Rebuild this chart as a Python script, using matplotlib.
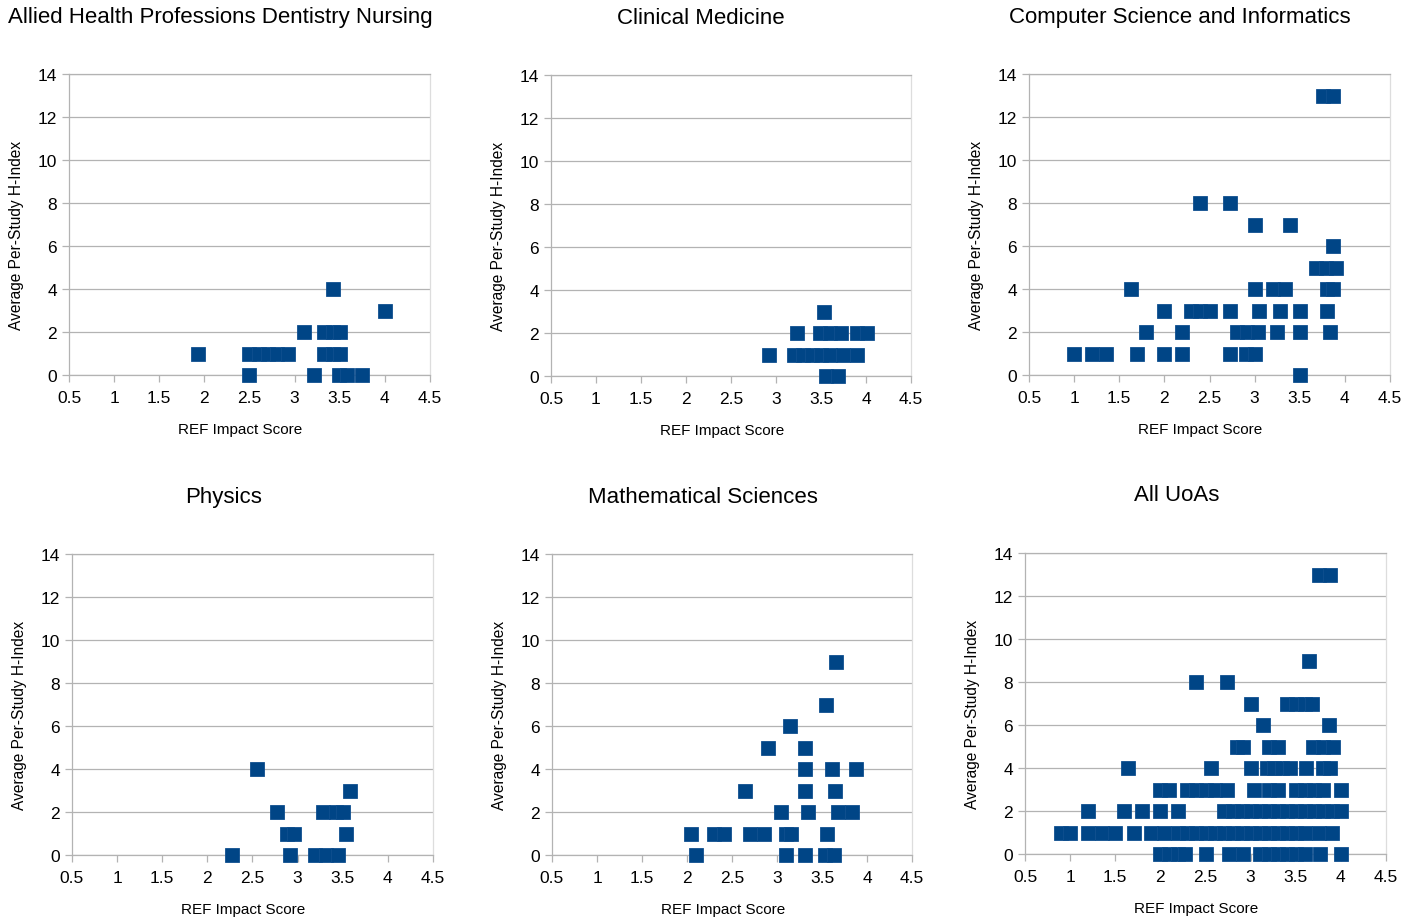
import numpy as np
import matplotlib
matplotlib.use('Agg')
import matplotlib.pyplot as plt

plt.rcParams['font.family'] = ['Liberation Sans', 'DejaVu Sans']

titles = ['Allied Health Professions Dentistry Nursing', 'Clinical Medicine',
          'Computer Science and Informatics', 'Physics', 'Mathematical Sciences', 'All UoAs']

# (impact score, h-index) pairs per panel
allied_x = [3.43, 4.0, 3.1, 3.33, 3.42, 3.5, 1.93, 2.5, 2.6, 2.7, 2.8, 2.93, 3.33, 3.42, 3.5,
            2.5, 3.21, 3.49, 3.58, 3.75]
allied_y = [4, 3, 2, 2, 2, 2, 1, 1, 1, 1, 1, 1, 1, 1, 1,
            0, 0, 0, 0, 0]

clinical_x = [3.53, 3.23, 3.49, 3.6, 3.72, 3.9, 4.01, 2.92, 3.2, 3.3, 3.4, 3.5, 3.6, 3.74, 3.9,
              3.56, 3.69]
clinical_y = [3, 2, 2, 2, 2, 2, 2, 1, 1, 1, 1, 1, 1, 1, 1,
              0, 0]

comp_x = [3.76, 3.87, 2.4, 2.73, 3.0, 3.39, 3.87, 3.68, 3.79, 3.9,
          1.63, 3.0, 3.2, 3.34, 3.8, 3.87,
          2.0, 2.3, 2.4, 2.5, 2.73, 3.05, 3.28, 3.5, 3.8,
          1.8, 2.2, 2.8, 2.92, 3.04, 3.25, 3.5, 3.83,
          1.0, 1.2, 1.35, 1.7, 2.0, 2.2, 2.73, 2.9, 3.0,
          3.5]
comp_y = [13, 13, 8, 8, 7, 7, 6, 5, 5, 5,
          4, 4, 4, 4, 4, 4,
          3, 3, 3, 3, 3, 3, 3, 3, 3,
          2, 2, 2, 2, 2, 2, 2, 2,
          1, 1, 1, 1, 1, 1, 1, 1, 1,
          0]

phys_x = [2.55, 3.58, 2.77, 3.28, 3.43, 3.5, 2.88, 2.96, 3.54,
          2.27, 2.91, 3.19, 3.31, 3.45]
phys_y = [4, 3, 2, 2, 2, 2, 1, 1, 1,
          0, 0, 0, 0, 0]

math_x = [3.65, 3.54, 3.14, 2.9, 3.31, 3.31, 3.61, 3.88, 2.64, 3.31, 3.64,
          3.04, 3.34, 3.68, 3.83,
          2.04, 2.3, 2.41, 2.7, 2.86, 3.1, 3.16, 3.56,
          2.1, 3.1, 3.31, 3.53, 3.63]
math_y = [9, 7, 6, 5, 5, 4, 4, 4, 3, 3, 3,
          2, 2, 2, 2,
          1, 1, 1, 1, 1, 1, 1, 1,
          0, 0, 0, 0, 0]

all_x = [3.76, 3.88, 3.65, 2.4, 2.74,
         3.0, 3.4, 3.5, 3.6, 3.68,
         3.14, 3.87,
         2.85, 2.92, 3.2, 3.3, 3.69, 3.8, 3.91,
         1.64, 2.56, 3.0, 3.18, 3.26, 3.35, 3.44, 3.61, 3.8, 3.88,
         2.0, 2.1, 2.3, 2.4, 2.5, 2.6, 2.74, 3.04, 3.2, 3.3, 3.5, 3.6, 3.7, 3.8, 4.0,
         1.2, 1.6, 1.8, 2.0, 2.2, 2.7, 2.8, 2.9, 3.0, 3.1, 3.2, 3.3, 3.4, 3.5, 3.6, 3.7,
         3.8, 3.9, 4.0,
         0.9, 1.0, 1.2, 1.35, 1.5, 1.71, 1.9, 2.04, 2.2, 2.3, 2.4, 2.5, 2.6, 2.7, 2.8,
         2.9, 3.0, 3.1, 3.2, 3.3, 3.4, 3.5, 3.6, 3.76, 3.9,
         2.0, 2.1, 2.2, 2.27, 2.5, 2.76, 2.92, 3.1, 3.2, 3.3, 3.4, 3.5, 3.6, 3.77, 4.0]
all_y = [13, 13, 9, 8, 8,
         7, 7, 7, 7, 7,
         6, 6,
         5, 5, 5, 5, 5, 5, 5,
         4, 4, 4, 4, 4, 4, 4, 4, 4, 4,
         3, 3, 3, 3, 3, 3, 3, 3, 3, 3, 3, 3, 3, 3, 3,
         2, 2, 2, 2, 2, 2, 2, 2, 2, 2, 2, 2, 2, 2, 2, 2,
         2, 2, 2,
         1, 1, 1, 1, 1, 1, 1, 1, 1, 1, 1, 1, 1, 1, 1,
         1, 1, 1, 1, 1, 1, 1, 1, 1, 1,
         0, 0, 0, 0, 0, 0, 0, 0, 0, 0, 0, 0, 0, 0, 0]

panels = [(allied_x, allied_y), (clinical_x, clinical_y), (comp_x, comp_y),
          (phys_x, phys_y), (math_x, math_y), (all_x, all_y)]

W, H = 1418, 920
# axes boxes in pixels: left, right, top, bottom
boxes = [(69, 430, 75, 376), (551, 911, 76, 377), (1029, 1390, 75, 376),
         (72, 433, 555, 856), (552, 912, 555, 856), (1025, 1386, 554, 855)]
title_pos = [(220, 18), (701, 19), (1180, 18), (224, 498), (703, 498), (1177, 496)]

fig = plt.figure(figsize=(W / 100, H / 100), dpi=100)
grey = '#b3b3b3'

for i, ((xs, ys), (l, r, t, b)) in enumerate(zip(panels, boxes)):
    ax = fig.add_axes([l / W, 1 - b / H, (r - l) / W, (b - t) / H])
    ax.plot(xs, ys, 's', color='#004586', markersize=9.5, markeredgewidth=0.6,
            markeredgecolor='#0f4f8f', zorder=3, clip_on=False)
    ax.set_xlim(0.5, 4.5)
    ax.set_ylim(0, 14)
    ax.set_xticks(np.arange(0.5, 4.51, 0.5))
    ax.set_xticklabels(['0.5', '1', '1.5', '2', '2.5', '3', '3.5', '4', '4.5'])
    ax.set_yticks(range(0, 15, 2))
    ax.grid(axis='y', color=grey, linewidth=0.9, zorder=0)
    for s in ax.spines.values():
        s.set_color(grey)
        s.set_linewidth(0.9)
    ax.spines['right'].set_color('#dddddd')
    ax.tick_params(colors=grey, labelcolor='black', labelsize=12.5, length=5, width=0.9)
    ax.tick_params(axis='x', pad=6)
    ax.set_xlabel('REF Impact Score', fontsize=11)
    ax.xaxis.set_label_coords(0.474, -0.156)
    ax.set_ylabel('Average Per-Study H-Index', fontsize=11.2)
    ax.yaxis.set_label_coords(-0.125, 0.468)
    tx, ty = title_pos[i]
    fig.text(tx / W, 1 - ty / H, titles[i], fontsize=16, ha='center', va='center')

fig.savefig('out.png', dpi=100, facecolor='white')
